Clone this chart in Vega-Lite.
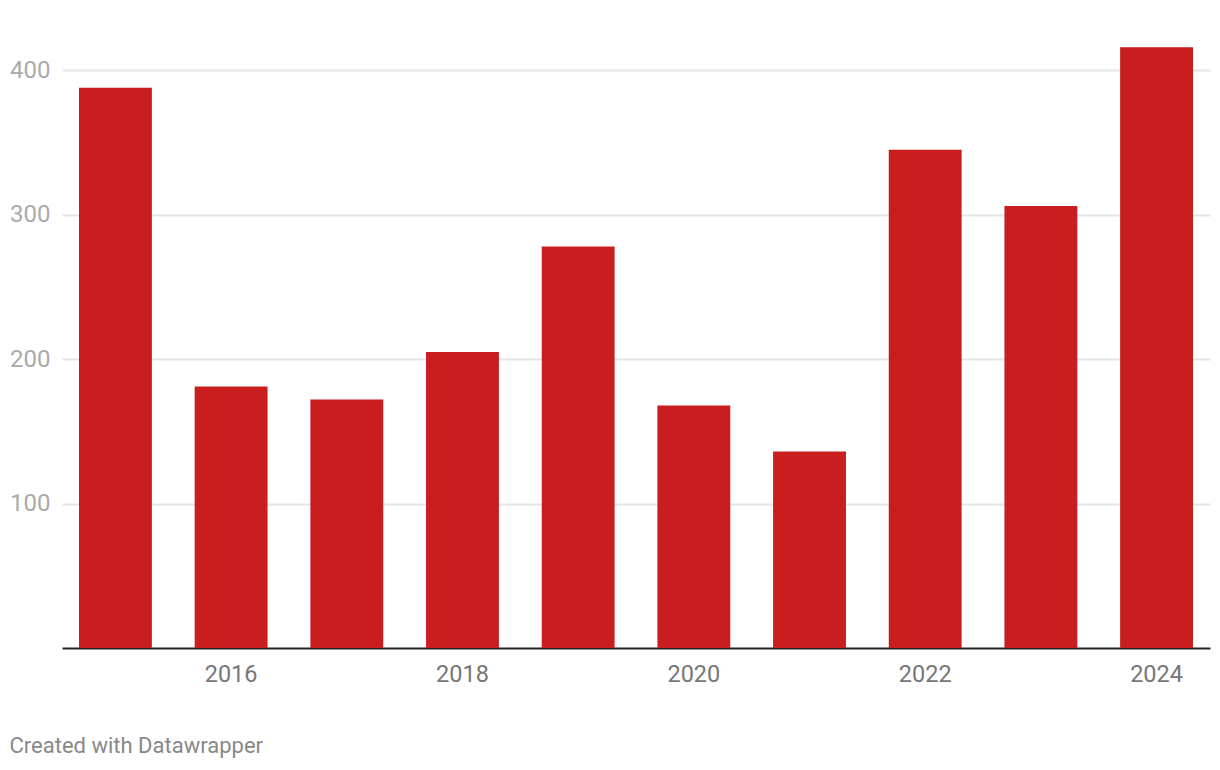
{
  "$schema": "https://vega.github.io/schema/vega-lite/v6.json",
  "width": 1148,
  "height": 621,
  "autosize": {"type": "none"},
  "padding": {"left": 62, "top": 27, "right": 10, "bottom": 122},
  "background": "white",
  "title": {
    "text": "Created with Datawrapper",
    "orient": "bottom",
    "anchor": "start",
    "frame": "bounds",
    "dx": 0,
    "offset": 50,
    "font": "Roboto",
    "fontSize": 22,
    "fontWeight": "normal",
    "color": "#888888"
  },
  "data": {
    "values": [
      {"year": "2015", "value": 388},
      {"year": "2016", "value": 181},
      {"year": "2017", "value": 172},
      {"year": "2018", "value": 205},
      {"year": "2019", "value": 278},
      {"year": "2020", "value": 168},
      {"year": "2021", "value": 136},
      {"year": "2022", "value": 345},
      {"year": "2023", "value": 306},
      {"year": "2024", "value": 416}
    ]
  },
  "mark": {"type": "bar", "color": "#c91e1f"},
  "encoding": {
    "x": {
      "field": "year",
      "type": "ordinal",
      "scale": {"paddingInner": 0.37, "paddingOuter": 0.147},
      "axis": {
        "title": null,
        "labelAngle": 0,
        "labelExpr": "toNumber(datum.value) % 2 == 0 ? datum.value : ''",
        "ticks": false,
        "domainColor": "#222222",
        "domainWidth": 2,
        "labelFont": "Roboto",
        "labelFontSize": 23.5,
        "labelColor": "#777777",
        "labelPadding": 14
      }
    },
    "y": {
      "field": "value",
      "type": "quantitative",
      "scale": {"domain": [0, 430], "nice": false},
      "axis": {
        "title": null,
        "values": [100, 200, 300, 400],
        "ticks": false,
        "domain": false,
        "gridColor": "#e6e6e6",
        "gridWidth": 2,
        "labelFont": "Roboto",
        "labelFontSize": 24,
        "labelColor": "#aaaaaa",
        "labelPadding": 12
      }
    }
  },
  "config": {"view": {"stroke": null}}
}
